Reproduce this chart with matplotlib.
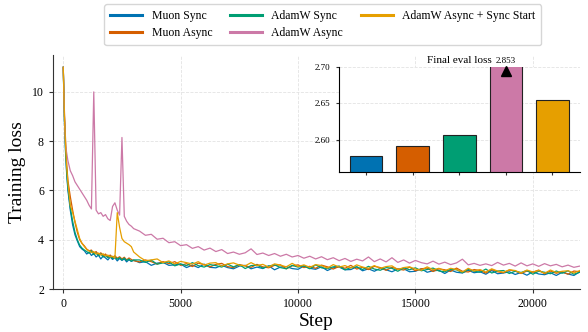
import numpy as np
import matplotlib
matplotlib.use("Agg")
import matplotlib.pyplot as plt

plt.rcParams['font.family'] = ['Liberation Serif', 'DejaVu Serif']

# step grid: fine at the start, coarser later on
steps = np.concatenate([
    [0, 50, 100, 150, 200],
    np.arange(300, 3001, 100),
    np.arange(3250, 22001, 250),
])

# training loss per run
muon_sync = [
    11.0, 8.8, 7.5, 6.6, 6.0,
    5.2, 4.6, 4.2, 3.95, 3.72, 3.62, 3.55, 3.42, 3.50, 3.36,
    3.44, 3.30, 3.38, 3.22, 3.34, 3.26, 3.18, 3.30, 3.20, 3.27,
    3.14, 3.24, 3.16, 3.22, 3.10, 3.19, 3.12, 3.17,
    3.07, 3.11, 2.96, 3.05, 3.08, 2.96, 2.98, 3.01, 2.87, 2.97,
    2.87, 3.01, 2.88, 2.86, 2.96, 2.87, 2.82, 2.93, 2.96, 2.82,
    2.89, 2.83, 2.94, 2.78, 2.89, 2.91, 2.83, 2.80, 2.93, 2.84,
    2.80, 2.90, 2.75, 2.86, 2.89, 2.78, 2.79, 2.90, 2.74, 2.82,
    2.72, 2.84, 2.78, 2.70, 2.81, 2.82, 2.70, 2.72, 2.82, 2.68,
    2.74, 2.76, 2.63, 2.77, 2.68, 2.65, 2.76, 2.66, 2.70, 2.60,
    2.75, 2.62, 2.65, 2.70, 2.59, 2.67, 2.56, 2.70, 2.61, 2.58,
    2.66, 2.55, 2.68, 2.61, 2.55, 2.70,
]
muon_async = [
    11.0, 9.2, 8.0, 7.0, 6.4,
    5.75, 5.2, 4.7, 4.3, 4.0, 3.85, 3.75, 3.62, 3.55, 3.58,
    3.45, 3.52, 3.40, 3.47, 3.36, 3.42, 3.30, 3.38, 3.28, 3.35,
    3.25, 3.31, 3.22, 3.29, 3.18, 3.26, 3.20, 3.15,
    3.10, 3.18, 3.11, 3.01, 3.11, 3.03, 3.11, 2.96, 3.03, 2.91,
    3.05, 2.99, 2.90, 3.00, 3.04, 2.91, 2.87, 2.99, 2.94, 2.88,
    3.00, 2.90, 2.86, 2.96, 2.98, 2.82, 2.94, 2.98, 2.87, 2.92,
    2.84, 2.97, 2.90, 2.81, 2.92, 2.84, 2.96, 2.81, 2.88, 2.79,
    2.92, 2.87, 2.76, 2.88, 2.81, 2.77, 2.89, 2.74, 2.82, 2.85,
    2.71, 2.82, 2.78, 2.71, 2.85, 2.72, 2.69, 2.79, 2.75, 2.65,
    2.79, 2.70, 2.66, 2.77, 2.73, 2.63, 2.73, 2.68, 2.77, 2.62,
    2.73, 2.64, 2.70, 2.60, 2.73, 2.70,
]
adamw_sync = [
    11.0, 8.9, 7.6, 6.7, 6.1,
    5.3, 4.75, 4.3, 4.0, 3.78, 3.66, 3.58, 3.52, 3.45, 3.55,
    3.40, 3.46, 3.35, 3.42, 3.30, 3.36, 3.27, 3.33, 3.24, 3.30,
    3.21, 3.27, 3.18, 3.25, 3.16, 3.21, 3.13, 3.18,
    3.18, 3.08, 3.17, 3.01, 3.06, 3.10, 2.94, 3.02, 2.95, 3.07,
    2.95, 2.89, 2.99, 2.95, 2.89, 3.01, 2.90, 2.99, 2.83, 2.95,
    2.97, 2.85, 2.93, 2.98, 2.87, 2.82, 2.96, 2.89, 2.94, 2.82,
    2.98, 2.86, 2.83, 2.90, 2.93, 2.78, 2.87, 2.90, 2.79, 2.92,
    2.81, 2.76, 2.87, 2.84, 2.72, 2.86, 2.78, 2.86, 2.74, 2.79,
    2.85, 2.73, 2.70, 2.80, 2.78, 2.66, 2.80, 2.72, 2.68, 2.81,
    2.65, 2.73, 2.75, 2.63, 2.72, 2.67, 2.75, 2.60, 2.72, 2.68,
    2.62, 2.73, 2.64, 2.74, 2.60, 2.68,
]
adamw_async = [
    11.0, 9.0, 7.8, 7.5, 7.2,
    6.8, 6.6, 6.35, 6.2, 6.05, 5.9, 5.75, 5.6, 5.4, 5.25,
    10.0, 5.2, 5.05, 5.1, 4.95, 5.02, 4.85, 4.78, 5.35, 5.5,
    5.2, 5.0, 8.15, 4.95, 4.75, 4.62, 4.55, 4.45,
    4.35, 4.18, 4.22, 4.02, 4.06, 3.88, 3.92, 3.76, 3.80, 3.65,
    3.72, 3.58, 3.66, 3.52, 3.60, 3.44, 3.50, 3.41, 3.47, 3.63,
    3.40, 3.46, 3.36, 3.44, 3.33, 3.41, 3.30, 3.36, 3.25, 3.33,
    3.22, 3.31, 3.19, 3.27, 3.15, 3.24, 3.12, 3.21, 3.14, 3.30,
    3.11, 3.22, 3.10, 3.27, 3.08, 3.18, 3.05, 3.16, 3.07, 3.02,
    3.13, 3.01, 3.09, 2.99, 3.06, 3.21, 2.98, 3.04, 2.96, 3.02,
    2.95, 3.08, 2.97, 3.04, 2.93, 3.06, 2.94, 3.02, 2.92, 3.03,
    2.94, 3.00, 2.90, 2.97, 2.88, 2.93,
]
adamw_async_sync_start = [
    11.0, 9.0, 7.8, 6.9, 6.3,
    5.4, 5.1, 4.75, 4.4, 4.05, 3.85, 3.72, 3.60, 3.55, 3.48,
    3.52, 3.42, 3.46, 3.38, 3.43, 3.34, 3.38, 3.30, 3.33, 3.25,
    5.1, 4.5, 4.05, 3.92, 3.86, 3.80, 3.72, 3.50,
    3.30, 3.15, 3.18, 3.22, 3.07, 3.14, 3.02, 3.12, 3.07, 3.01,
    3.11, 2.97, 3.05, 3.07, 2.93, 3.02, 3.06, 2.97, 2.94, 3.07,
    2.95, 3.00, 2.89, 3.02, 2.97, 2.90, 3.04, 2.91, 2.98, 2.88,
    2.99, 2.95, 2.85, 2.99, 2.89, 2.95, 2.85, 2.98, 2.89, 2.84,
    2.95, 2.84, 2.91, 2.94, 2.79, 2.87, 2.90, 2.81, 2.76, 2.90,
    2.78, 2.84, 2.74, 2.84, 2.79, 2.69, 2.84, 2.73, 2.79, 2.69,
    2.82, 2.73, 2.68, 2.78, 2.75, 2.65, 2.77, 2.69, 2.75, 2.64,
    2.77, 2.67, 2.72, 2.74, 2.65, 2.75,
]

run_names = ['Muon Sync', 'Muon Async', 'AdamW Sync', 'AdamW Async',
             'AdamW Async + Sync Start']
run_colors = ['#0072B2', '#D55E00', '#009E73', '#CC79A7', '#E69F00']
final_eval_loss = [2.578, 2.591, 2.606, 2.853, 2.654]

runs = [muon_sync, muon_async, adamw_sync, adamw_async, adamw_async_sync_start]

fig = plt.figure(figsize=(5.88, 3.32), dpi=100)
ax = fig.add_axes([0.090, 0.1295, 0.896, 0.705])

for name, color, loss in zip(run_names, run_colors, runs):
    ax.plot(steps, loss, color=color, lw=0.9, label=name)

ax.set_xlim(-440, 22000)
ax.set_ylim(2, 11.5)
ax.set_xticks([0, 5000, 10000, 15000, 20000])
ax.set_yticks([2, 4, 6, 8, 10])
ax.tick_params(labelsize=8.5, length=3, color='#333333')
ax.set_xlabel('Step', fontsize=14, labelpad=2)
ax.set_ylabel('Training loss', fontsize=14)
ax.grid(True, ls='--', lw=0.6, color='#e3e3e3')
ax.set_axisbelow(True)
for side in ['top', 'right']:
    ax.spines[side].set_visible(False)
for side in ['left', 'bottom']:
    ax.spines[side].set_color('#333333')

leg = fig.legend(loc='upper center', bbox_to_anchor=(0.549, 1.005), ncol=3,
                 fontsize=8.5, frameon=True, handlelength=2.7,
                 columnspacing=1.5, borderpad=0.5, labelspacing=0.45)
leg.get_frame().set_edgecolor('#cccccc')
for line in leg.get_lines():
    line.set_linewidth(2.2)

# inset with the final evaluation loss
ins = fig.add_axes([0.576, 0.482, 0.410, 0.317])
xpos = np.arange(len(final_eval_loss))
ins.bar(xpos, final_eval_loss, width=0.7, color=run_colors,
        edgecolor='#222222', lw=0.8, zorder=2)
top = 2.70
ins.set_ylim(2.556, top)
ins.set_yticks([2.60, 2.65, 2.70])
ins.set_xticks(xpos)
ins.set_xticklabels([])
ins.tick_params(labelsize=6.5, length=2.5, color='#333333')
ins.grid(True, axis='y', ls='--', lw=0.6, color='#e3e3e3')
ins.set_axisbelow(True)
for side in ['top', 'right']:
    ins.spines[side].set_visible(False)
ins.set_title('Final eval loss', fontsize=8, pad=3)

# bars above the axis limit get an arrow and their value
for i, v in enumerate(final_eval_loss):
    if v > top:
        ins.plot(i, top - 0.006, marker='^', color='black', ms=7,
                 clip_on=False, zorder=3)
        ins.text(i, top + 0.002, f'{v:.3f}', ha='center', va='bottom',
                 fontsize=6.5)

fig.savefig('out.png', dpi=100)
